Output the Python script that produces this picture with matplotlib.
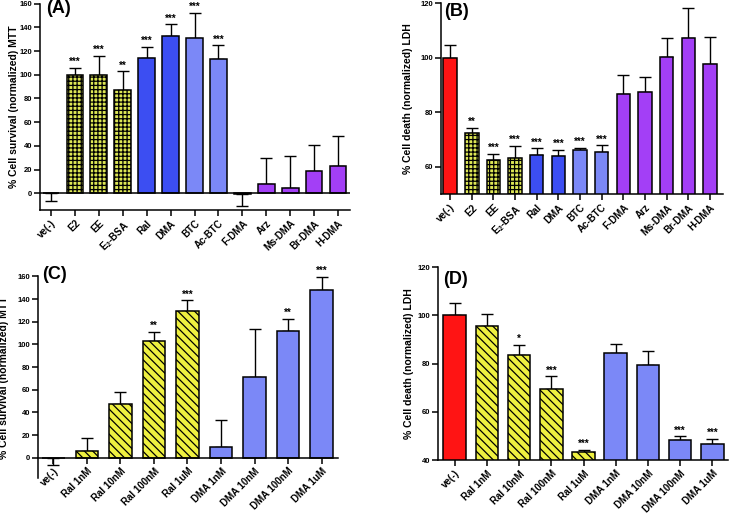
import numpy as np
import matplotlib
matplotlib.use('Agg')
import matplotlib.pyplot as plt

plt.rcParams['font.family'] = ['Liberation Sans', 'DejaVu Sans']
plt.rcParams['font.weight'] = 'bold'
plt.rcParams['axes.labelweight'] = 'bold'
plt.rcParams['mathtext.fontset'] = 'custom'
plt.rcParams['mathtext.rm'] = 'Liberation Sans:bold'
plt.rcParams['mathtext.it'] = 'Liberation Sans:bold'
plt.rcParams['mathtext.default'] = 'rm'
plt.rcParams['hatch.linewidth'] = 0.9

# ---- data ----
labels_ab = ['ve(-)', 'E2', 'EE', 'E$_2$-BSA', 'Ral', 'DMA', 'BTC', 'Ac-BTC',
             'F-DMA', 'Arz', 'Ms-DMA', 'Br-DMA', 'H-DMA']
mtt_a = [0, 100, 100, 87.5, 114.5, 132.7, 131, 113.6, -1, 8.2, 4.2, 19.1, 22.8]
mtt_a_err = [6.5, 5.7, 16, 15.5, 9.2, 9.9, 21.4, 11.3, 9.4, 21.8, 27, 21.9, 25.8]
stars_a = ['', '***', '***', '**', '***', '***', '***', '***', '', '', '', '', '']

ldh_b = [100, 72.6, 62.7, 63.4, 64.4, 63.9, 66.1, 65.6, 86.8, 87.6, 100.1, 107.1, 97.6]
ldh_b_err = [4.7, 1.8, 2.2, 4.4, 2.4, 2.4, 1.0, 2.4, 7.0, 5.4, 7.3, 11.2, 10.1]
stars_b = ['', '**', '***', '***', '***', '***', '***', '***', '', '', '', '', '']

labels_cd = ['ve(-)', 'Ral 1nM', 'Ral 10nM', 'Ral 100nM', 'Ral 1uM',
             'DMA 1nM', 'DMA 10nM', 'DMA 100nM', 'DMA 1uM']
mtt_c = [0, 6.2, 47.4, 102.9, 129.1, 9.4, 71.2, 111.5, 147.6]
mtt_c_err = [6.5, 11.2, 10.8, 8.3, 9.7, 23.8, 42.0, 11.1, 11.8]
stars_c = ['', '', '', '**', '***', '', '', '**', '***']

ldh_d = [100, 95.6, 83.4, 69.7, 43.6, 84.6, 79.4, 48.3, 46.9]
ldh_d_err = [5.0, 5.1, 4.5, 5.1, 0.8, 3.5, 5.8, 1.7, 1.9]
stars_d = ['', '', '*', '***', '***', '', '', '***', '***']

# ---- styles ----
red = '#ff1414'
yel_chk = '#dde655'
yel_str = '#eef040'
blue = '#3c4ef2'
lblue = '#7b88f7'
purple = '#a33ff6'

colors_ab = [red] + [yel_chk] * 3 + [blue] * 2 + [lblue] * 2 + [purple] * 5
hatch_ab = [None] + ['++++'] * 3 + [None] * 9
colors_cd = [red] + [yel_str] * 4 + [lblue] * 4
hatch_cd = [None] + ['\\\\\\\\'] * 4 + [None] * 4


def draw_panel(ax, labels, vals, errs, colors, hatches, stars, width, zero_axis=False):
    if zero_axis:
        ax.spines['bottom'].set_position(('data', 0))
    x = np.arange(len(vals))
    vals = np.array(vals)
    errs = np.array(errs)
    for i in range(len(vals)):
        ax.bar(x[i], vals[i], width=width, color=colors[i], hatch=hatches[i],
               edgecolor='black', linewidth=1.1, zorder=2)
    lo = np.where(vals <= 0, errs, 0)
    hi = np.where(vals <= 0, 0, errs)
    ax.errorbar(x, vals, yerr=[lo, hi], fmt='none', ecolor='black',
                elinewidth=1.0, capsize=4, capthick=1.0, zorder=1)
    for i, s in enumerate(stars):
        if s:
            ax.annotate(s, (x[i], vals[i] + hi[i]), xytext=(0, 0.5),
                        textcoords='offset points', ha='center', va='bottom',
                        fontsize=7)
    ax.set_xticks(x)
    ax.set_xticklabels(labels, rotation=45, ha='right', rotation_mode='anchor',
                       fontsize=7)
    ax.spines['top'].set_visible(False)
    ax.spines['right'].set_visible(False)
    ax.spines['left'].set_linewidth(1.1)
    ax.spines['bottom'].set_linewidth(1.1)
    ax.tick_params(axis='y', direction='out', length=4, width=1.1,
                   labelsize=5.5, pad=1.5)
    ax.tick_params(axis='x', direction='out', length=4, width=1.1,
                   labelsize=7, pad=2)


fig = plt.figure(figsize=(7.29, 5.14), dpi=100)

# (A)
ax1 = fig.add_axes([0.0549, 0.5914, 0.4252, 0.4016])
draw_panel(ax1, labels_ab, mtt_a, mtt_a_err, colors_ab, hatch_ab, stars_a, 0.70)
ax1.axhline(0, color='black', lw=1.1, zorder=3)
ax1.set_xlim(-0.46, 12.5)
ax1.set_ylim(-14.1, 160)
ax1.set_yticks(np.arange(0, 161, 20))
ax1.set_ylabel('% Cell survival (normalized) MTT', fontsize=7.5)
ax1.yaxis.set_label_coords(-0.068, 0.5)

# (B)
ax2 = fig.add_axes([0.605, 0.622, 0.3868, 0.372])
draw_panel(ax2, labels_ab, ldh_b, ldh_b_err, colors_ab, hatch_ab, stars_b, 0.62)
ax2.set_xlim(-0.42, 12.6)
ax2.set_ylim(50, 120)
ax2.set_yticks([60, 80, 100, 120])
ax2.set_ylabel('% Cell death (normalized) LDH', fontsize=7.5)
ax2.yaxis.set_label_coords(-0.099, 0.5)

# (C)
ax3 = fig.add_axes([0.0521, 0.0698, 0.4115, 0.3926])
draw_panel(ax3, labels_cd, mtt_c, mtt_c_err, colors_cd, hatch_cd, stars_c, 0.68,
           zero_axis=True)
ax3.set_xlim(-0.46, 8.49)
ax3.set_ylim(-18, 160)
ax3.set_yticks(np.arange(0, 161, 20))
ax3.set_ylabel('% Cell survival (normalized) MTT', fontsize=7.5)
ax3.yaxis.set_label_coords(-0.097, 0.5)

# (D)
ax4 = fig.add_axes([0.6008, 0.1045, 0.398, 0.376])
draw_panel(ax4, labels_cd, ldh_d, ldh_d_err, colors_cd, hatch_cd, stars_d, 0.70)
ax4.set_xlim(-0.52, 8.49)
ax4.set_ylim(40, 120)
ax4.set_yticks(np.arange(40, 121, 20))
ax4.set_ylabel('% Cell death (normalized) LDH', fontsize=7.5)
ax4.yaxis.set_label_coords(-0.083, 0.5)

# panel letters
fig.text(46 / 729, 1 - 0 / 514, '(A)', fontsize=13, va='top', ha='left')
fig.text(444 / 729, 1 - 3 / 514, '(B)', fontsize=13, va='top', ha='left')
fig.text(42 / 729, 1 - 266 / 514, '(C)', fontsize=13, va='top', ha='left')
fig.text(443 / 729, 1 - 271 / 514, '(D)', fontsize=13, va='top', ha='left')

plt.savefig('out.png', dpi=100)
